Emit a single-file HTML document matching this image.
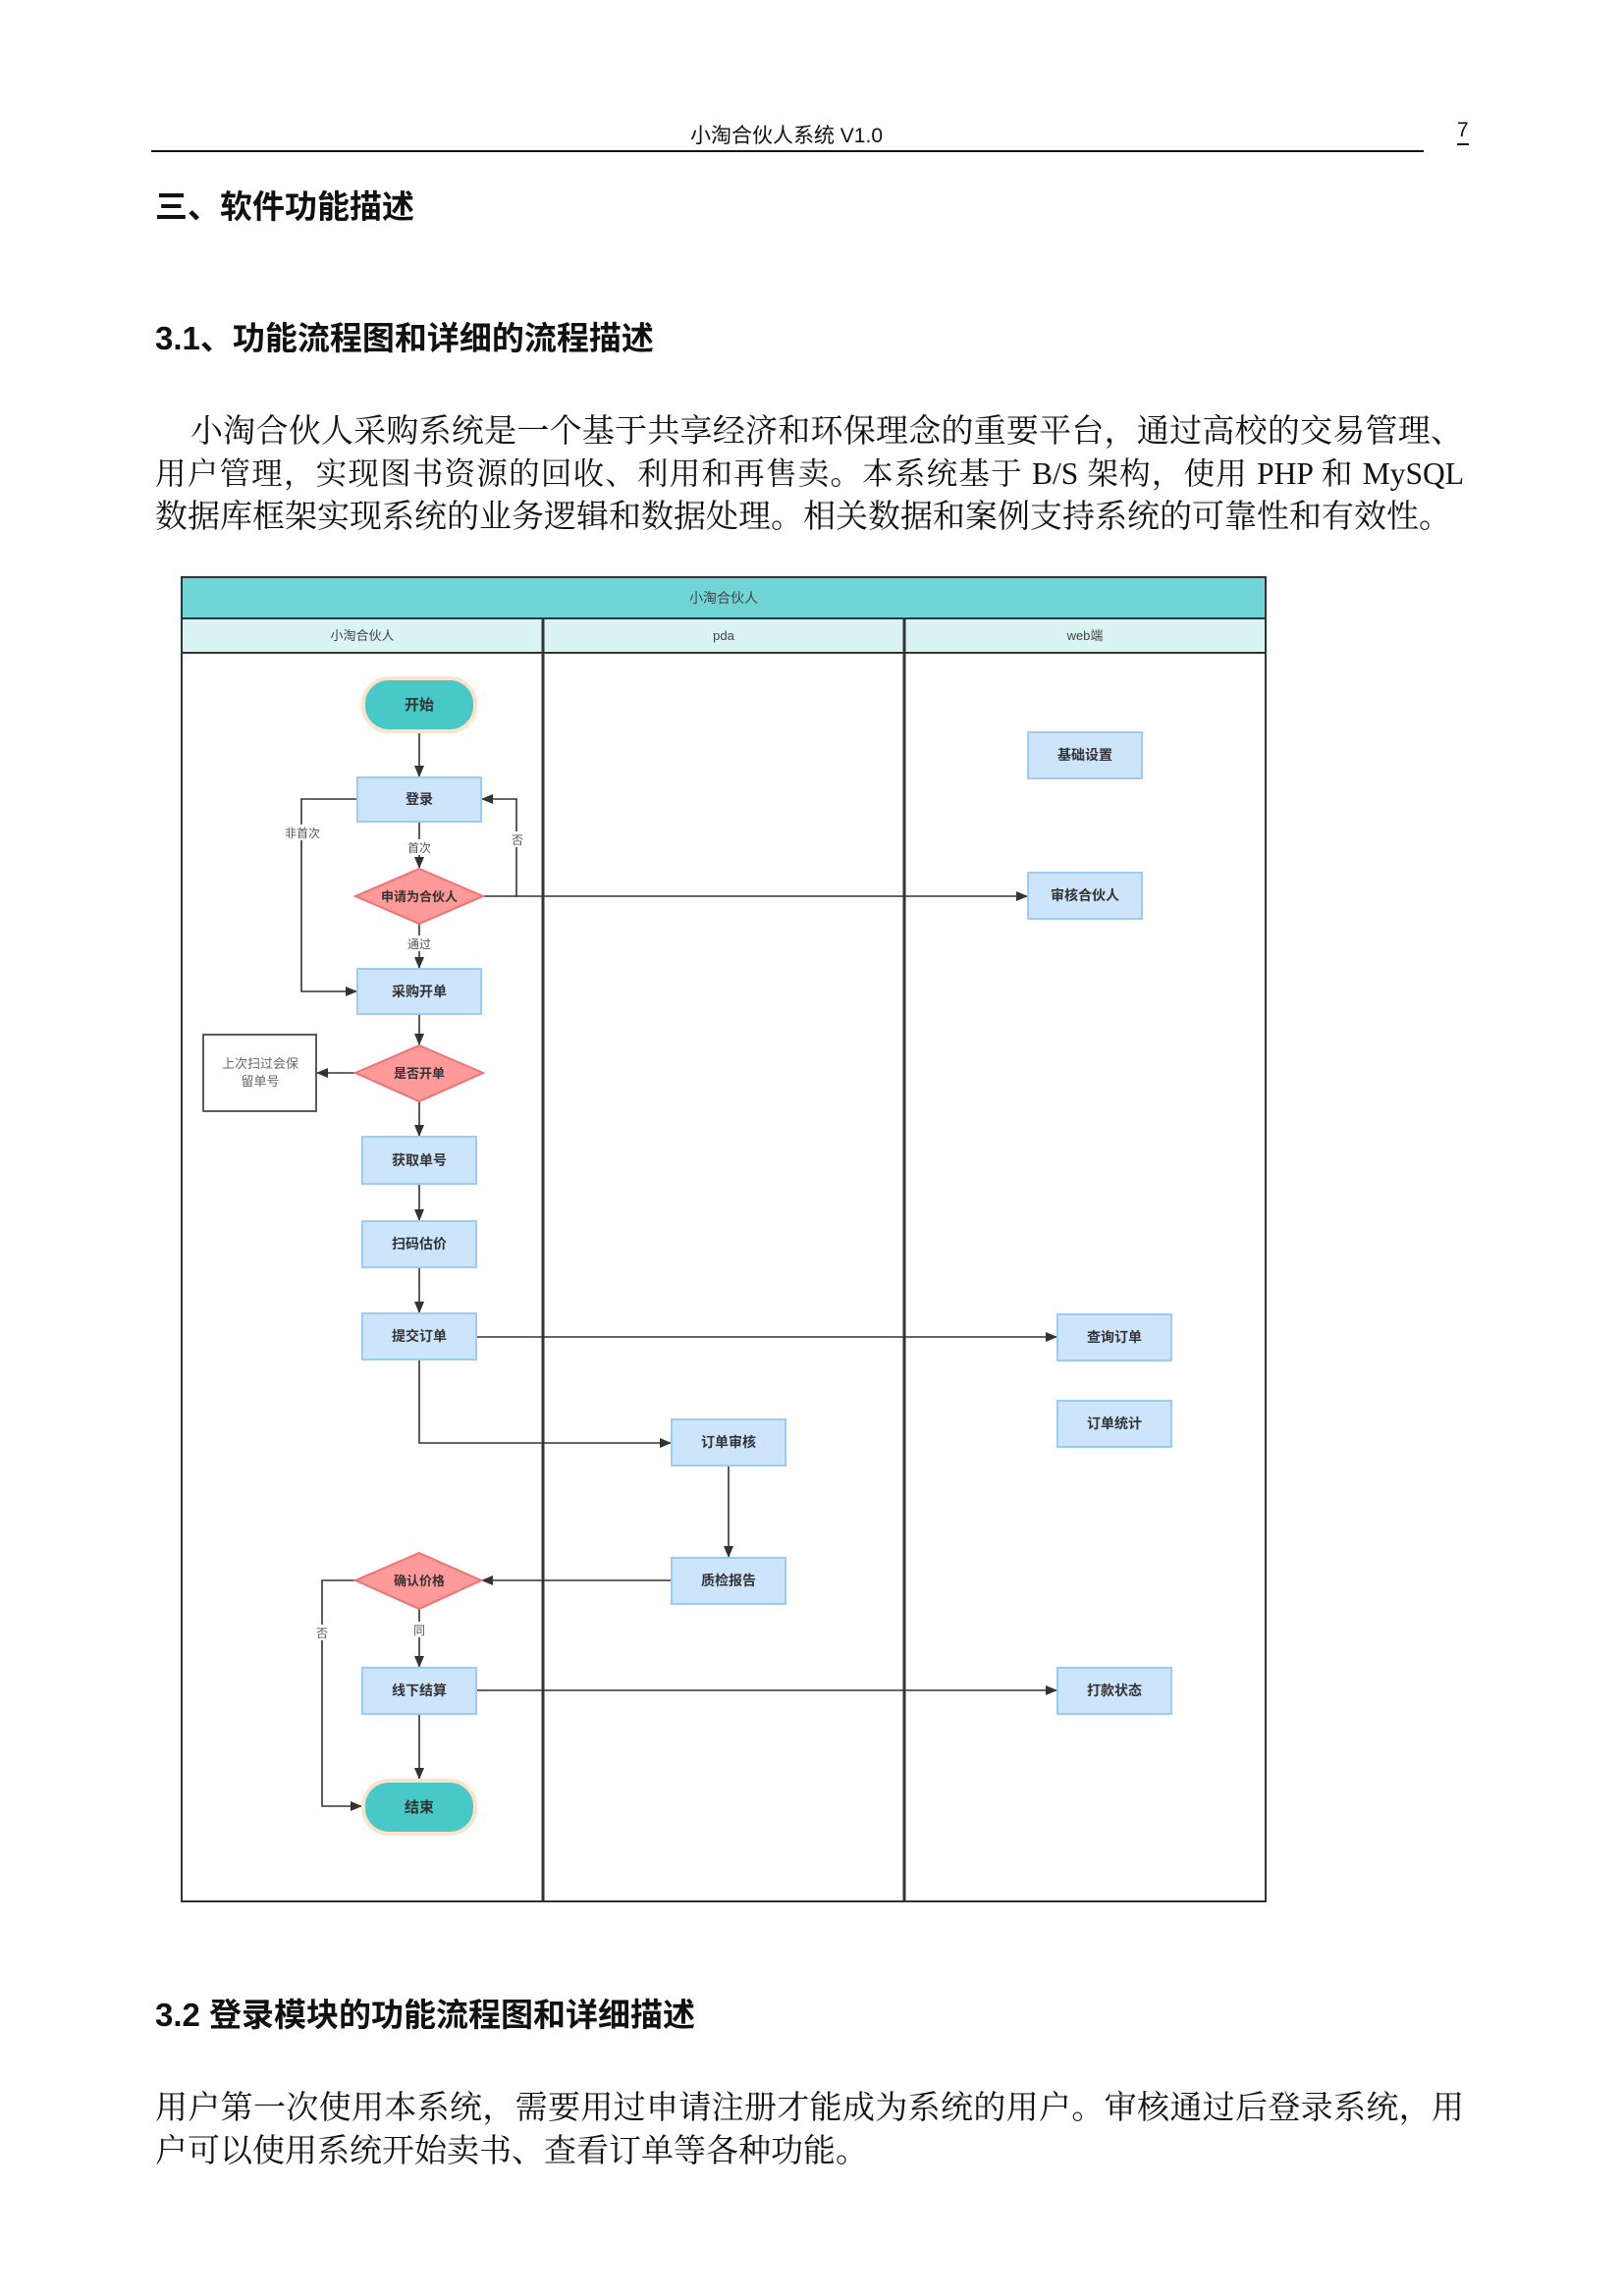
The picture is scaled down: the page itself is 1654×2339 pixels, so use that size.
<!DOCTYPE html>
<html><head><meta charset="utf-8"><style>
body{margin:0;background:#fff;}
.pg{position:relative;width:1654px;height:2339px;overflow:hidden;background:#fff;font-family:"Liberation Serif","Noto Serif CJK SC",serif;color:#111;}
.a{position:absolute;white-space:nowrap;}
.h{font-family:"Liberation Sans","Noto Sans CJK SC",sans-serif;font-weight:700;font-size:33px;}
.p{position:absolute;left:158px;width:1333px;font-size:33px;text-align:justify;text-align-last:justify;white-space:nowrap;line-height:44px;}
</style></head><body><div class="pg">
<div class="a" style="left:0;width:1602px;text-align:center;top:122px;font-size:21px;font-family:'Liberation Sans','Noto Sans CJK SC',sans-serif;">小淘合伙人系统 V1.0</div>
<div class="a" style="left:1484px;top:120px;font-size:21px;font-family:'Liberation Sans',sans-serif;border-bottom:2px solid #111;line-height:26px;">7</div>
<div class="a" style="left:154px;top:153px;width:1296px;height:2px;background:#111;"></div>
<div class="a h" style="left:158px;top:184px;">三、软件功能描述</div>
<div class="a h" style="left:158px;top:318px;">3.1、功能流程图和详细的流程描述</div>
<div class="p" style="top:418px;left:194px;width:1296px;">小淘合伙人采购系统是一个基于共享经济和环保理念的重要平台，通过高校的交易管理、</div>
<div class="p" style="top:461px;font-size:31.5px;">用户管理，实现图书资源的回收、利用和再售卖。本系统基于 B/S 架构，使用 PHP 和 MySQL</div>
<div class="p" style="top:505px;text-align-last:left;">数据库框架实现系统的业务逻辑和数据处理。相关数据和案例支持系统的可靠性和有效性。</div>
<div class="a h" style="left:158px;top:2026px;">3.2 登录模块的功能流程图和详细描述</div>
<div class="p" style="top:2126px;">用户第一次使用本系统，需要用过申请注册才能成为系统的用户。审核通过后登录系统，用</div>
<div class="p" style="top:2170px;text-align-last:left;">户可以使用系统开始卖书、查看订单等各种功能。</div>

<svg class="a" style="left:0;top:0" width="1654" height="2339" font-family="Liberation Sans, Noto Sans CJK SC, sans-serif">
<defs><marker id="ar" markerWidth="12" markerHeight="10" refX="11" refY="5" orient="auto" markerUnits="userSpaceOnUse"><path d="M0,0 L12,5 L0,10 Z" fill="#333"/></marker></defs>
<rect x="185" y="588" width="1104" height="42" fill="#70d5d5" stroke="#2f3437" stroke-width="2"/>
<rect x="185" y="630" width="1104" height="35" fill="#d9f4f2" stroke="#2f3437" stroke-width="2"/>
<rect x="185" y="665" width="1104" height="1272" fill="none" stroke="#2f3437" stroke-width="2"/>
<line x1="553" y1="630" x2="553" y2="1937" stroke="#2f3437" stroke-width="3"/>
<line x1="921" y1="630" x2="921" y2="1937" stroke="#2f3437" stroke-width="3"/>
<g font-size="14" fill="#444" text-anchor="middle">
<text x="737" y="614">小淘合伙人</text>
<text x="369" y="652" font-size="13">小淘合伙人</text>
<text x="737" y="652" font-size="13">pda</text>
<text x="1105" y="652" font-size="13">web端</text>
</g>
<g stroke="#333" stroke-width="1.6" fill="none">
<line x1="427" y1="745" x2="427" y2="791" marker-end="url(#ar)"/>
<polyline points="364,814 307,814 307,1010 363,1010" marker-end="url(#ar)"/>
<line x1="427" y1="837" x2="427" y2="884" marker-end="url(#ar)"/>
<polyline points="492,913 526,913 526,814 491,814" marker-end="url(#ar)"/>
<line x1="526" y1="913" x2="1046" y2="913" marker-end="url(#ar)"/>
<line x1="427" y1="941" x2="427" y2="986" marker-end="url(#ar)"/>
<line x1="427" y1="1033" x2="427" y2="1064" marker-end="url(#ar)"/>
<line x1="362" y1="1093" x2="323" y2="1093" marker-end="url(#ar)"/>
<line x1="427" y1="1122" x2="427" y2="1157" marker-end="url(#ar)"/>
<line x1="427" y1="1206" x2="427" y2="1243" marker-end="url(#ar)"/>
<line x1="427" y1="1291" x2="427" y2="1337" marker-end="url(#ar)"/>
<line x1="485" y1="1362" x2="1076" y2="1362" marker-end="url(#ar)"/>
<polyline points="427,1385 427,1470 683,1470" marker-end="url(#ar)"/>
<line x1="742" y1="1493" x2="742" y2="1586" marker-end="url(#ar)"/>
<line x1="684" y1="1610" x2="491" y2="1610" marker-end="url(#ar)"/>
<polyline points="362,1610 328,1610 328,1840 368,1840" marker-end="url(#ar)"/>
<line x1="427" y1="1639" x2="427" y2="1698" marker-end="url(#ar)"/>
<line x1="485" y1="1722" x2="1076" y2="1722" marker-end="url(#ar)"/>
<line x1="427" y1="1746" x2="427" y2="1812" marker-end="url(#ar)"/>
</g>
<g font-size="12" fill="#555" text-anchor="middle">
<rect x="286" y="840" width="42" height="16" fill="#fff"/><text x="308" y="853">非首次</text>
<rect x="413" y="855" width="28" height="16" fill="#fff"/><text x="427" y="868">首次</text>
<rect x="519" y="847" width="14" height="16" fill="#fff"/><text x="527" y="860">否</text>
<rect x="413" y="953" width="28" height="16" fill="#fff"/><text x="427" y="966">通过</text>
<rect x="420" y="1652" width="14" height="16" fill="#fff"/><text x="427" y="1665">同</text>
<rect x="321" y="1655" width="14" height="16" fill="#fff"/><text x="328" y="1668">否</text>
</g>
<g stroke="#fde3c9" stroke-width="4" fill="#48c9c8">
<rect x="370" y="691" width="114" height="54" rx="26"/>
<rect x="370" y="1814" width="114" height="54" rx="26"/>
</g>
<g fill="#cce5fb" stroke="#9ccbf6" stroke-width="2">
<rect x="364" y="792" width="126" height="45"/>
<rect x="364" y="987" width="126" height="46"/>
<rect x="369" y="1158" width="116" height="48"/>
<rect x="369" y="1244" width="116" height="47"/>
<rect x="369" y="1338" width="116" height="47"/>
<rect x="369" y="1699" width="116" height="47"/>
<rect x="684" y="1446" width="116" height="47"/>
<rect x="684" y="1587" width="116" height="47"/>
<rect x="1047" y="746" width="116" height="47"/>
<rect x="1047" y="889" width="116" height="47"/>
<rect x="1077" y="1339" width="116" height="47"/>
<rect x="1077" y="1427" width="116" height="47"/>
<rect x="1077" y="1699" width="116" height="47"/>
</g>
<g fill="#fe9a9a" stroke="#f07272" stroke-width="2">
<polygon points="427,885 492,913 427,941 362,913"/>
<polygon points="427,1065 492,1093 427,1122 362,1093"/>
<polygon points="427,1582 490,1610 427,1639 362,1610"/>
</g>
<rect x="207" y="1054" width="115" height="78" fill="#fff" stroke="#333" stroke-width="1.6"/>
<g font-size="13" fill="#666" text-anchor="middle"><text x="265" y="1088">上次扫过会保</text><text x="265" y="1106">留单号</text></g>
<g font-size="14" font-weight="700" fill="#333" text-anchor="middle">
<text x="427" y="723" font-size="15">开始</text>
<text x="427" y="1846" font-size="15">结束</text>
<text x="427" y="819">登录</text>
<text x="427" y="918" font-size="13">申请为合伙人</text>
<text x="427" y="1015">采购开单</text>
<text x="427" y="1098" font-size="13">是否开单</text>
<text x="427" y="1187">获取单号</text>
<text x="427" y="1272">扫码估价</text>
<text x="427" y="1366">提交订单</text>
<text x="427" y="1615" font-size="13">确认价格</text>
<text x="427" y="1727">线下结算</text>
<text x="742" y="1474">订单审核</text>
<text x="742" y="1615">质检报告</text>
<text x="1105" y="774">基础设置</text>
<text x="1105" y="917">审核合伙人</text>
<text x="1135" y="1367">查询订单</text>
<text x="1135" y="1455">订单统计</text>
<text x="1135" y="1727">打款状态</text>
</g>
</svg>
</div></body></html>
